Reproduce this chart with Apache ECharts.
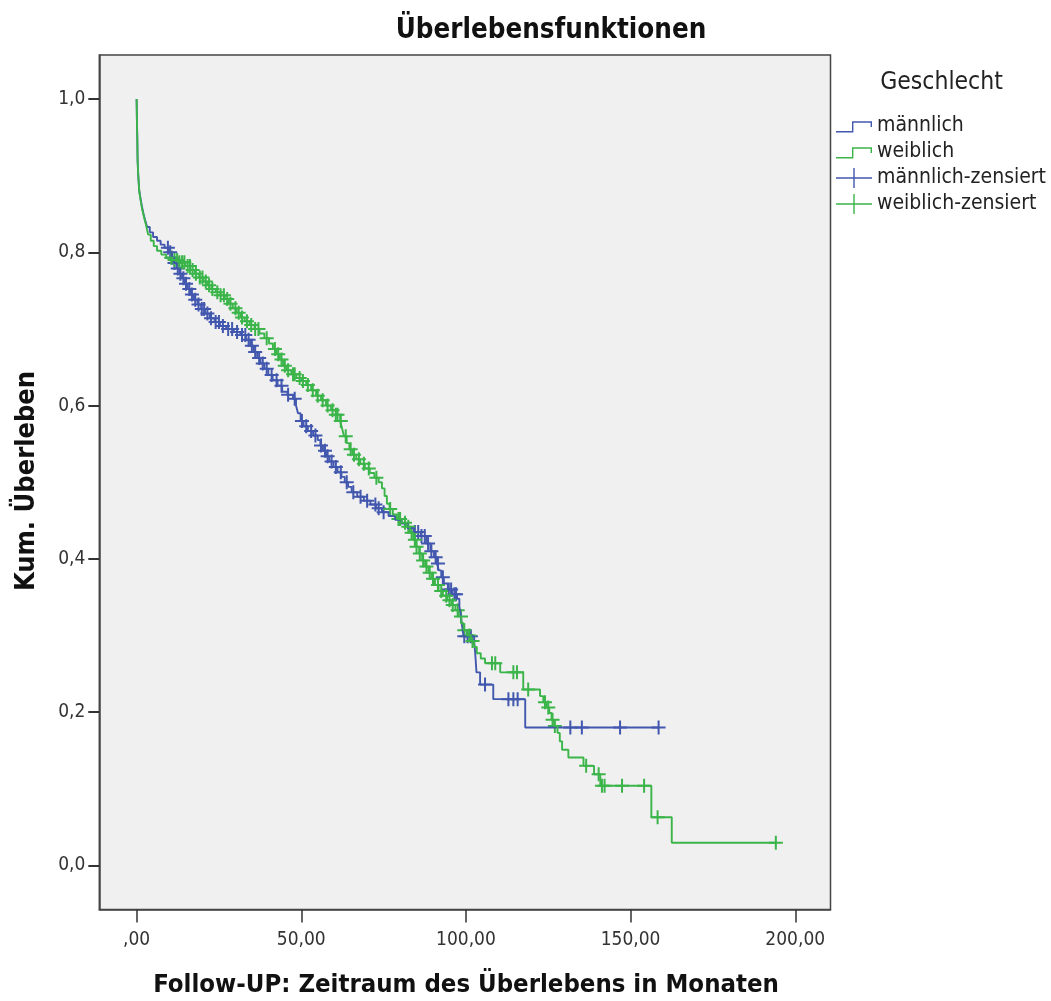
<!DOCTYPE html>
<html>
<head>
<meta charset="utf-8">
<script src="https://cdn.jsdelivr.net/npm/echarts@6.0.0/dist/echarts.min.js"></script>
<style>
  html, body { margin: 0; padding: 0; background: #fff; }
  #chart { width: 1051px; height: 1001px; }
</style>
</head>
<body>
<div id="chart"></div>
<script>
// Kaplan-Meier steps [month, survival]
const maleCurve = [
  [0, 1.0], [0.1, 0.97], [0.2, 0.95], [0.3, 0.92], [0.5, 0.90], [0.8, 0.88], [1.2, 0.87], [1.6, 0.86],
  [2.1, 0.85], [2.7, 0.84], [3.2, 0.833], [4.0, 0.826], [5.0, 0.82], [6.2, 0.815], [7.3, 0.81], [8.5, 0.806],
  [9.8, 0.80], [10.6, 0.793], [11.4, 0.786], [12.2, 0.779], [13.0, 0.772], [13.8, 0.766], [14.6, 0.759],
  [15.5, 0.752], [16.4, 0.745], [17.4, 0.738], [18.5, 0.732], [19.6, 0.726], [20.8, 0.72], [22.2, 0.714],
  [23.7, 0.709], [25.3, 0.704], [27.2, 0.70], [29.5, 0.696], [31.5, 0.692], [33.2, 0.686], [34.5, 0.678],
  [35.6, 0.670], [36.6, 0.662], [37.6, 0.655], [38.8, 0.648], [40.0, 0.640], [41.3, 0.633], [42.8, 0.626],
  [44.2, 0.618], [45.8, 0.614], [47.5, 0.609], [48.4, 0.60], [49.0, 0.59], [49.8, 0.58], [50.7, 0.573],
  [52.0, 0.567], [53.6, 0.561], [55.0, 0.555], [55.8, 0.548], [56.6, 0.541], [57.5, 0.534], [58.5, 0.527],
  [59.8, 0.52], [61.0, 0.513], [62.2, 0.507], [63.2, 0.50], [64.2, 0.494], [65.3, 0.487], [67.0, 0.481],
  [69.0, 0.476], [71.0, 0.471], [72.7, 0.466], [74.5, 0.461], [76.5, 0.456], [78.5, 0.451], [80.5, 0.446],
  [82.3, 0.44], [84.2, 0.435], [86.3, 0.43], [88.0, 0.42], [89.2, 0.41], [90.3, 0.402], [91.2, 0.394],
  [91.8, 0.385], [92.5, 0.376], [93.3, 0.368], [94.5, 0.36], [95.8, 0.354], [97.3, 0.348], [98.0, 0.338],
  [98.4, 0.328], [98.7, 0.317], [99.0, 0.307], [99.3, 0.299], [102.5, 0.291], [102.8, 0.278], [103.0, 0.265],
  [103.2, 0.252], [104.3, 0.236], [108.3, 0.217], [118.0, 0.18], [158.5, 0.18]
];
const femaleCurve = [
  [0, 1.0], [0.1, 0.97], [0.2, 0.95], [0.3, 0.92], [0.5, 0.90], [0.8, 0.88], [1.2, 0.868], [1.7, 0.856],
  [2.3, 0.845], [2.9, 0.835], [3.5, 0.823], [4.3, 0.815], [5.2, 0.808], [6.2, 0.802], [7.5, 0.797], [9.0, 0.793],
  [11.0, 0.79], [13.0, 0.787], [14.8, 0.782], [16.3, 0.777], [17.7, 0.772], [19.0, 0.767], [20.3, 0.762],
  [21.5, 0.757], [22.7, 0.752], [24.0, 0.748], [25.5, 0.744], [26.8, 0.739], [28.0, 0.733], [29.2, 0.727],
  [30.4, 0.721], [31.6, 0.715], [32.8, 0.710], [34.3, 0.705], [35.8, 0.700], [37.3, 0.694], [38.8, 0.688],
  [40.2, 0.681], [41.4, 0.674], [42.5, 0.667], [43.5, 0.66], [44.5, 0.652], [45.5, 0.646], [47.0, 0.641],
  [48.5, 0.636], [50.0, 0.632], [51.5, 0.627], [53.0, 0.62], [54.5, 0.613], [56.0, 0.607], [57.5, 0.60],
  [59.0, 0.594], [60.5, 0.588], [61.8, 0.58], [62.4, 0.57], [63.0, 0.56], [63.8, 0.551], [64.6, 0.543],
  [65.5, 0.536], [66.7, 0.53], [67.9, 0.524], [69.3, 0.518], [70.8, 0.512], [72.2, 0.506], [73.5, 0.50],
  [74.5, 0.492], [75.3, 0.482], [76.0, 0.472], [76.8, 0.465], [77.8, 0.458], [79.0, 0.452], [80.5, 0.447],
  [82.0, 0.442], [83.0, 0.434], [84.0, 0.425], [84.9, 0.416], [85.8, 0.407], [86.7, 0.398], [87.6, 0.39],
  [88.6, 0.382], [89.6, 0.374], [90.6, 0.366], [91.7, 0.358], [93.0, 0.352], [94.3, 0.346], [95.6, 0.34],
  [96.8, 0.333], [97.8, 0.325], [98.6, 0.316], [99.3, 0.307], [100.3, 0.30], [101.5, 0.293], [102.5, 0.285],
  [103.3, 0.277], [104.5, 0.27], [105.8, 0.264], [110.4, 0.252], [117.4, 0.2296], [122.5, 0.221],
  [123.5, 0.213], [124.5, 0.206], [125.3, 0.199], [126.0, 0.19], [126.8, 0.182], [127.8, 0.173],
  [128.5, 0.162], [129.2, 0.151], [131.1, 0.141], [135.7, 0.130], [138.9, 0.119], [140.8, 0.104],
  [156.3, 0.063], [162.5, 0.0296], [194.4, 0.0296]
];
// censored cases (months)
const maleCensored = [
  9.5, 10.2, 10.8, 11.5, 12.5, 13.3, 14.2, 15.0, 16.0, 16.8, 17.8, 18.8, 19.8, 20.5, 21.5, 22.6, 24.0, 25.0,
  26.2, 27.8, 29.0, 30.5, 32.0, 33.0, 34.0, 35.0, 36.0, 37.2, 38.3, 39.5, 41.0, 42.5, 44.0, 46.0, 48.0, 50.2,
  51.5, 53.0, 54.3, 56.0, 57.2, 58.0, 59.2, 60.5, 62.0, 63.8, 65.8, 68.0, 70.0, 72.5, 73.5, 75.0, 84.5, 85.5,
  86.5, 87.5, 88.5, 89.5, 90.8, 91.5, 93.0, 94.8, 95.5, 96.5, 97.0, 99.5, 100.5, 101.5, 105.8, 112.9, 114.4,
  115.7, 131.7, 135.2, 146.8, 158.5
];
const femaleCensored = [
  10.5, 11.5, 12.3, 13.0, 13.8, 14.5, 15.5, 16.2, 17.0, 18.0, 19.2, 20.0, 21.0, 22.0, 23.0, 24.5, 25.5, 26.5,
  27.5, 28.5, 30.0, 31.0, 32.0, 33.5, 34.8, 36.0, 37.0, 39.5, 42.0, 43.0, 44.0, 45.0, 46.0, 47.5, 48.0, 49.5,
  50.5, 52.0, 53.5, 55.0, 56.5, 58.0, 59.5, 60.5, 61.0, 62.0, 63.5, 65.0, 66.0, 67.5, 69.0, 70.5, 72.8, 77.0,
  79.5, 80.0, 81.5, 82.5, 83.5, 84.5, 85.0, 86.0, 87.0, 88.0, 89.0, 90.0, 91.5, 92.5, 94.0, 95.0, 96.0, 97.5,
  98.5, 99.5, 101.0, 102.0, 107.9, 108.9, 114.4, 115.5, 118.9, 124.0, 125.0, 126.3, 127.0, 136.5, 140.3,
  141.3, 142.1, 147.4, 154.1, 158.2, 194.1
];
const xTicks = [0, 50, 100, 150, 200];
const yTicks = [0, 0.2, 0.4, 0.6, 0.8, 1.0];

const BLUE = '#4257ae';
const GREEN = '#3bb54a';
const FONT = '"DejaVu Sans Condensed", "DejaVu Sans", sans-serif';
const PLUS = 'path://M6,0H8V6H14V8H8V14H6V8H0V6H6Z';
// legend icons on a 36x20 box; the tiny corner squares only fix the box size
const STEP_ICON = 'path://M0,0h0.01v0.01h-0.01Z M0,20h0.01v-0.01h-0.01Z ' +
  'M0,15H16V5.3H36V11H34.6V6.7H17.4V16.4H0Z';
const PLUS_ICON = 'path://M0,9.3H17.3V0H18.7V9.3H36V10.7H18.7V20H17.3V10.7H0Z';

// censor marks sit on the curve at their time
const onCurve = (curve, t) => {
  let s = curve[0][1];
  for (const p of curve) { if (p[0] <= t) s = p[1]; else break; }
  return [t, s];
};

const chart = echarts.init(document.getElementById('chart'));
chart.setOption({
  animation: false,
  textStyle: { fontFamily: FONT },
  grid: {
    left: 99.3, top: 55, width: 731.2, height: 854.5,
    show: true, backgroundColor: '#f0f0f0', borderColor: '#444', borderWidth: 1.5
  },
  xAxis: {
    type: 'value', min: -11.33, max: 210.7,
    axisLine: { show: true, onZero: false, lineStyle: { color: '#444', width: 1.5 } },
    axisTick: { show: true, length: 13, customValues: xTicks, lineStyle: { color: '#333', width: 1.5 } },
    axisLabel: {
      customValues: xTicks, margin: 21, fontSize: 19, color: '#333', fontFamily: FONT,
      formatter: v => (v === 0 ? ',00' : v.toFixed(2).replace('.', ','))
    },
    splitLine: { show: false }
  },
  yAxis: {
    type: 'value', min: -0.0574, max: 1.0574,
    axisLine: { show: true, onZero: false, lineStyle: { color: '#444', width: 1.5 } },
    axisTick: { show: true, length: 11, customValues: yTicks, lineStyle: { color: '#333', width: 2 } },
    axisLabel: {
      customValues: yTicks, margin: 14, fontSize: 19, color: '#333', fontFamily: FONT,
      formatter: v => v.toFixed(1).replace('.', ',')
    },
    splitLine: { show: false }
  },
  legend: {
    orient: 'vertical', left: 836, top: 115.5, padding: 0, itemWidth: 36, itemHeight: 20, itemGap: 5,
    textStyle: { fontSize: 21, color: '#222', fontFamily: FONT },
    data: [
      { name: 'männlich', icon: STEP_ICON },
      { name: 'weiblich', icon: STEP_ICON },
      { name: 'männlich-zensiert', icon: PLUS_ICON },
      { name: 'weiblich-zensiert', icon: PLUS_ICON }
    ]
  },
  graphic: [
    { type: 'text', x: 551, y: 31,
      style: { text: 'Überlebensfunktionen', font: 'bold 27.5px ' + FONT, fill: '#111',
        align: 'center', verticalAlign: 'middle' } },
    { type: 'text', x: 941.5, y: 83,
      style: { text: 'Geschlecht', font: '24.5px ' + FONT, fill: '#222', align: 'center', verticalAlign: 'middle' } },
    { type: 'text', x: 466, y: 985,
      style: { text: 'Follow-UP: Zeitraum des Überlebens in Monaten', font: 'bold 25.5px ' + FONT, fill: '#111',
        align: 'center', verticalAlign: 'middle' } },
    { type: 'text', x: 27, y: 481, rotation: Math.PI / 2,
      style: { text: 'Kum. Überleben', font: 'bold 27px ' + FONT, fill: '#111',
        align: 'center', verticalAlign: 'middle' } }
  ],
  series: [
    { name: 'männlich', type: 'line', step: 'end', showSymbol: false, data: maleCurve,
      itemStyle: { color: BLUE }, lineStyle: { color: BLUE, width: 1.9 } },
    { name: 'weiblich', type: 'line', step: 'end', showSymbol: false, data: femaleCurve,
      itemStyle: { color: GREEN }, lineStyle: { color: GREEN, width: 1.9 } },
    { name: 'männlich-zensiert', type: 'scatter', symbol: PLUS, symbolSize: 14,
      data: maleCensored.map(t => onCurve(maleCurve, t)), itemStyle: { color: BLUE, opacity: 1 } },
    { name: 'weiblich-zensiert', type: 'scatter', symbol: PLUS, symbolSize: 14,
      data: femaleCensored.map(t => onCurve(femaleCurve, t)), itemStyle: { color: GREEN, opacity: 1 } }
  ]
});
</script>
</body>
</html>
